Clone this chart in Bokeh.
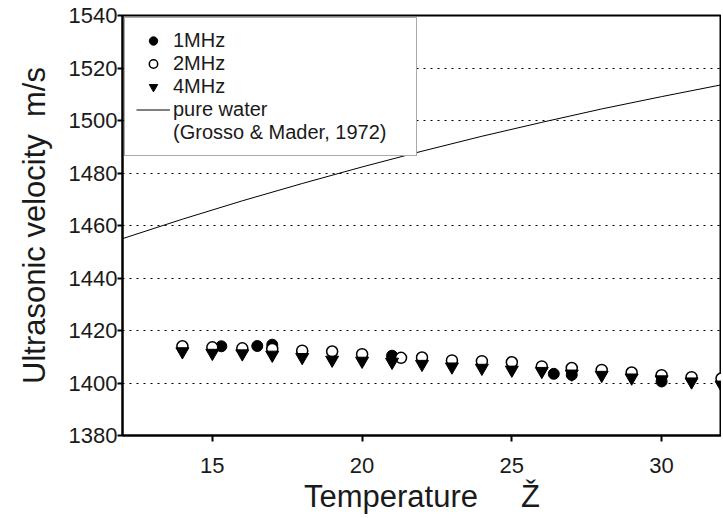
from bokeh.plotting import figure
from bokeh.models import FixedTicker, Legend, LegendItem, Range1d
from bokeh.embed import file_html
from bokeh.resources import INLINE

# pure water reference curve (Grosso & Mader, 1972)
water_t = [12, 14, 16, 18, 20, 22, 24, 26, 28, 30, 32]
water_v = [1455.0, 1462.4, 1469.4, 1476.0, 1482.3, 1488.3, 1494.0, 1499.3, 1504.4, 1509.1, 1513.6]

# 1 MHz (filled circles)
t1 = [15.3, 16.5, 17, 18, 21, 26.4, 27, 30]
v1 = [1414.0, 1414.1, 1414.6, 1412.1, 1410.4, 1403.5, 1403.1, 1400.6]

# 2 MHz (open circles)
t2 = [14, 15, 16, 17, 18, 19, 20, 21.3, 22, 23, 24, 25, 26, 27, 28, 29, 30, 31, 32]
v2 = [1414.0, 1413.6, 1413.2, 1413.0, 1412.3, 1412.0, 1411.0, 1409.6, 1409.7, 1408.6,
      1408.3, 1407.9, 1406.3, 1405.7, 1405.0, 1404.0, 1403.0, 1402.2, 1401.7]

# 4 MHz (filled inverted triangles)
t4 = [14, 15, 16, 17, 18, 19, 20, 21, 22, 23, 24, 25, 26, 27, 28, 29, 30, 31, 32]
v4 = [1412.0, 1411.4, 1411.2, 1410.7, 1409.8, 1408.8, 1408.4, 1408.0, 1407.2, 1406.2,
      1405.7, 1405.0, 1404.5, 1403.5, 1403.0, 1402.0, 1401.3, 1400.5, 1399.3]

y_ticks = [1380, 1400, 1420, 1440, 1460, 1480, 1500, 1520, 1540]
x_ticks = [15, 20, 25, 30]

FONT = "Liberation Sans"
TXT = "#1a1a1a"

p = figure(width=721, height=516, x_range=Range1d(12, 32), y_range=Range1d(1380, 1540),
           output_backend="svg", toolbar_location=None,
           min_border_left=122, min_border_right=0, min_border_top=15, min_border_bottom=80)

p.background_fill_color = "white"
p.border_fill_color = "white"
p.outline_line_color = "black"
p.outline_line_width = 2

p.xgrid.visible = False
p.ygrid.grid_line_color = "black"
p.ygrid.grid_line_dash = "2 5"
p.ygrid.grid_line_width = 1

p.yaxis.ticker = FixedTicker(ticks=y_ticks)
p.xaxis.ticker = FixedTicker(ticks=x_ticks)

for ax in (p.xaxis, p.yaxis):
    ax.axis_line_color = "black"
    ax.axis_line_width = 2
    ax.major_tick_line_color = "black"
    ax.major_tick_line_width = 2
    ax.major_tick_in = 0
    ax.minor_tick_line_color = None
    ax.major_label_text_font = FONT
    ax.major_label_text_font_size = "22px"
    ax.major_label_text_color = TXT
    ax.axis_label_text_font = FONT
    ax.axis_label_text_font_size = "31px"
    ax.axis_label_text_font_style = "normal"
    ax.axis_label_text_color = TXT

p.yaxis.major_tick_out = 5
p.xaxis.major_tick_out = 6
p.yaxis.major_label_standoff = 0
p.yaxis.axis_label_standoff = 14
p.xaxis.major_label_standoff = 16
p.xaxis.axis_label_standoff = 3

p.xaxis.axis_label = "Temperature\u00a0\u00a0\u00a0\u00a0 Ž"
p.yaxis.axis_label = "Ultrasonic velocity\u00a0 m/s"

r_water = p.line(water_t, water_v, line_color="black", line_width=1)
r1 = p.scatter(t1, v1, marker="circle", size=11, fill_color="black", line_color="black")
r2 = p.scatter(t2, v2, marker="circle", size=11, fill_color="white", line_color="black", line_width=1.5)
r4 = p.scatter(t4, v4, marker="inverted_triangle", size=13, fill_color="black", line_color="black")
r_dummy = p.line(water_t, water_v, line_alpha=0)

legend = Legend(items=[
    LegendItem(label="1MHz", renderers=[r1]),
    LegendItem(label="2MHz", renderers=[r2]),
    LegendItem(label="4MHz", renderers=[r4]),
    LegendItem(label="pure water", renderers=[r_water]),
    LegendItem(label="(Grosso & Mader, 1972)", renderers=[r_dummy]),
], location="top_left")
legend.margin = 2
legend.padding = 11
legend.spacing = 0
legend.glyph_width = 34
legend.glyph_height = 21
legend.label_height = 21
legend.label_width = 232
legend.label_standoff = 3
legend.label_text_font = FONT
legend.label_text_font_size = "20px"
legend.label_text_line_height = 1.0
legend.label_text_color = TXT
legend.border_line_color = "#555555"
legend.border_line_width = 1.5
legend.background_fill_color = "white"
legend.background_fill_alpha = 1
p.add_layout(legend)

open("out.html", "w").write(file_html(p, INLINE))
